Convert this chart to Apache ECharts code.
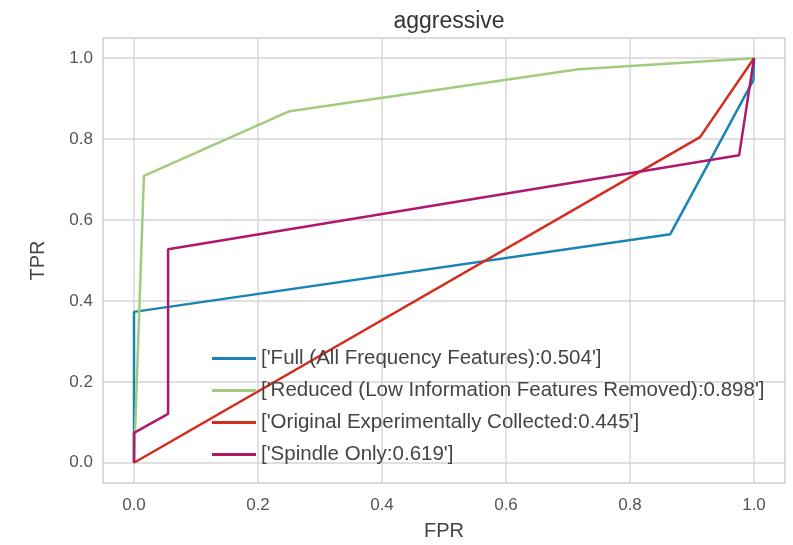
<!DOCTYPE html>
<html>
<head>
<meta charset="utf-8">
<script src="https://cdn.jsdelivr.net/npm/echarts@6/dist/echarts.min.js"></script>
<style>
  html, body { margin: 0; padding: 0; background: #fff; }
  #chart { width: 793px; height: 545px; }
</style>
</head>
<body>
<div id="chart"></div>
<script>
// ROC curves
var seriesNames = [
    "['Full (All Frequency Features):0.504']",
    "['Reduced (Low Information Features Removed):0.898']",
    "['Original Experimentally Collected:0.445']",
    "['Spindle Only:0.619']"
];
var fullFpr = [0, 0, 0.865, 0.999, 1];
var fullTpr = [0, 0.373, 0.565, 0.946, 1];
var reducedFpr = [0, 0.016, 0.251, 0.717, 1];
var reducedTpr = [0, 0.709, 0.869, 0.973, 1];
var originalFpr = [0, 0.913, 1];
var originalTpr = [0, 0.805, 1];
var spindleFpr = [0, 0, 0.055, 0.055, 0.976, 1];
var spindleTpr = [0, 0.074, 0.121, 0.528, 0.760, 1];
var tickValues = [0, 0.2, 0.4, 0.6, 0.8, 1.0];

var colors = ['#1a84b4', '#a2cb7e', '#d42c1e', '#b0176e'];
var FONT = '"Liberation Sans", Arial, sans-serif';

function pairs(xs, ys) {
    return xs.map(function (x, i) { return [x, ys[i]]; });
}
var curves = [
    pairs(fullFpr, fullTpr),
    pairs(reducedFpr, reducedTpr),
    pairs(originalFpr, originalTpr),
    pairs(spindleFpr, spindleTpr)
];

var labelStyle = {
    color: '#555',
    fontSize: 17,
    fontFamily: FONT
};

var myChart = echarts.init(document.getElementById('chart'));
myChart.setOption({
    backgroundColor: '#fff',
    animation: false,
    title: {
        text: 'aggressive',
        left: 444,
        top: 5,
        textAlign: 'center',
        textStyle: {
            color: '#333',
            fontSize: 23,
            fontWeight: 'normal',
            fontFamily: FONT
        }
    },
    grid: {
        left: 103,
        right: 8,
        top: 38,
        bottom: 62,
        containLabel: false,
        outerBoundsMode: 'none',
        show: true,
        borderColor: '#d0d0d0',
        borderWidth: 1.5
    },
    legend: {
        orient: 'vertical',
        left: 207,
        top: 343,
        icon: 'rect',
        itemWidth: 44,
        itemHeight: 3,
        itemGap: 11,
        textStyle: {
            color: '#444',
            fontSize: 20.5,
            fontFamily: FONT
        },
        data: seriesNames
    },
    xAxis: {
        type: 'value',
        min: -0.05,
        max: 1.05,
        name: 'FPR',
        nameLocation: 'middle',
        nameGap: 38,
        nameTextStyle: { color: '#444', fontSize: 20, fontFamily: FONT },
        axisLine: { show: false },
        axisTick: { show: false, customValues: tickValues },
        axisLabel: Object.assign({
            customValues: tickValues,
            margin: 14,
            formatter: function (v) { return v.toFixed(1); }
        }, labelStyle),
        splitLine: { show: true, lineStyle: { color: '#d6d6d6', width: 1.5 } }
    },
    yAxis: {
        type: 'value',
        min: -0.05,
        max: 1.05,
        name: 'TPR',
        nameLocation: 'middle',
        nameGap: 55,
        nameTextStyle: { color: '#444', fontSize: 20, fontFamily: FONT },
        axisLine: { show: false },
        axisTick: { show: false, customValues: tickValues },
        axisLabel: Object.assign({
            customValues: tickValues,
            margin: 10,
            formatter: function (v) { return v.toFixed(1); }
        }, labelStyle),
        splitLine: { show: true, lineStyle: { color: '#d6d6d6', width: 1.5 } }
    },
    series: curves.map(function (d, i) {
        return {
            name: seriesNames[i],
            type: 'line',
            data: d,
            symbol: 'none',
            color: colors[i],
            lineStyle: { color: colors[i], width: 2.5 }
        };
    })
});
</script>
</body>
</html>
